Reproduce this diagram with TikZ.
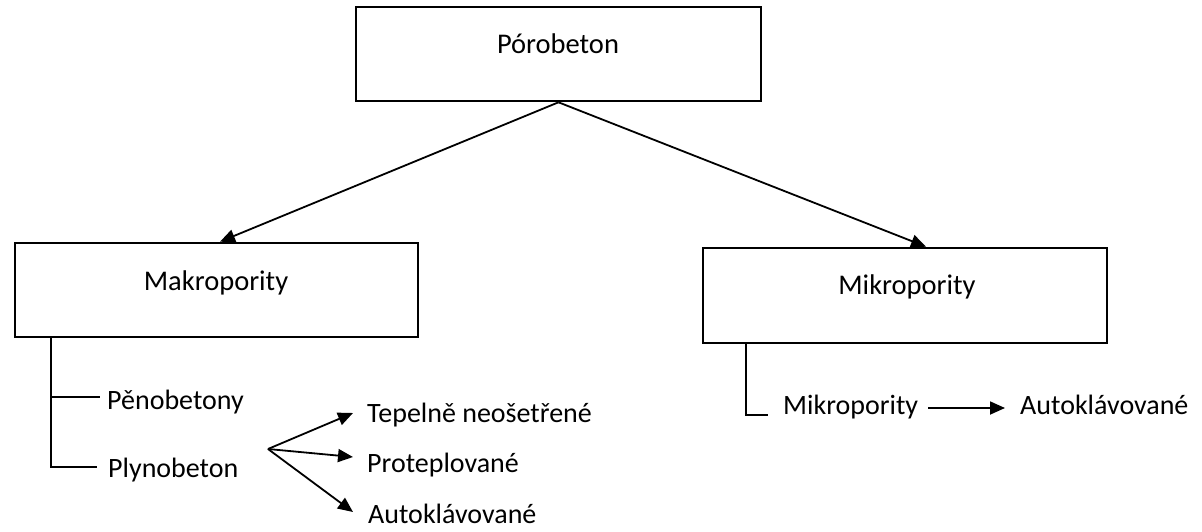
\documentclass[tikz,border=0pt]{standalone}
\usepackage{fontspec}
\setmainfont{Carlito}
\usetikzlibrary{arrows.meta}
\begin{document}
\begin{tikzpicture}[x=1pt,y=-1pt,
  box/.style={draw, line width=2.6pt, inner sep=0pt},
  lbl/.style={inner sep=0pt, anchor=base, font=\fontsize{28.5}{34}\selectfont},
  leaf/.style={inner sep=0pt, anchor=base west, font=\fontsize{28}{34}\selectfont},
  link/.style={line width=1.8pt},
  arr/.style={link, -{Triangle[length=15pt,width=13pt]}},
]
\useasboundingbox (0,0) rectangle (1202,532);

% category boxes
\node[box, minimum width=405pt, minimum height=94pt] (pb)  at (558.5,54)  {};
\node[box, minimum width=403pt, minimum height=94pt] (mak) at (216.5,290) {};
\node[box, minimum width=404pt, minimum height=95pt] (mik) at (905,295.5) {};

\node[lbl] (pbt)  at (558,54)  {Pórobeton};
\node[lbl] (makt) at (216,290) {Makropority};
\node[lbl] (mikt) at (907,294) {Mikropority};

\draw[arr] (pb.south) -- ([xshift=3.5pt]mak.north);
\draw[arr] (pb.south) -- ([xshift=21pt]mik.north);

% macro-pore branch
\node[leaf] (pen) at (107,409) {Pěnobetony};
\node[leaf] (pln) at (108,477) {Plynobeton};
\node[leaf] (tep) at (367,422) {Tepelně neošetřené};
\node[leaf] (prt) at (367,472) {Proteplované};
\node[leaf] (aut) at (368,523) {Autoklávované};

\draw[link] ([xshift=37pt]mak.south west) |- ([shift={(-7pt,12pt)}]pen.base west);
\draw[link] ([xshift=37pt]mak.south west) |- ([shift={(-11pt,10pt)}]pln.base west);

\coordinate (fan) at ([shift={(160pt,28pt)}]pln.base west);
\draw[arr] (fan) -- ([shift={(-14pt,9pt)}]tep.base west);
\draw[arr] (fan) -- ([shift={(-14pt,15pt)}]prt.base west);
\draw[arr] (fan) -- ([shift={(-15pt,11pt)}]aut.base west);

% micro-pore branch
\node[leaf] (mkr)  at (783,414)  {Mikropority};
\node[leaf] (aut2) at (1020,414) {Autoklávované};

\draw[link] ([xshift=44pt]mik.south west) |- ([shift={(-15pt,-1pt)}]mkr.base west);
\draw[arr] ([shift={(145pt,6pt)}]mkr.base west) -- ([shift={(-15pt,6pt)}]aut2.base west);
\end{tikzpicture}
\end{document}
